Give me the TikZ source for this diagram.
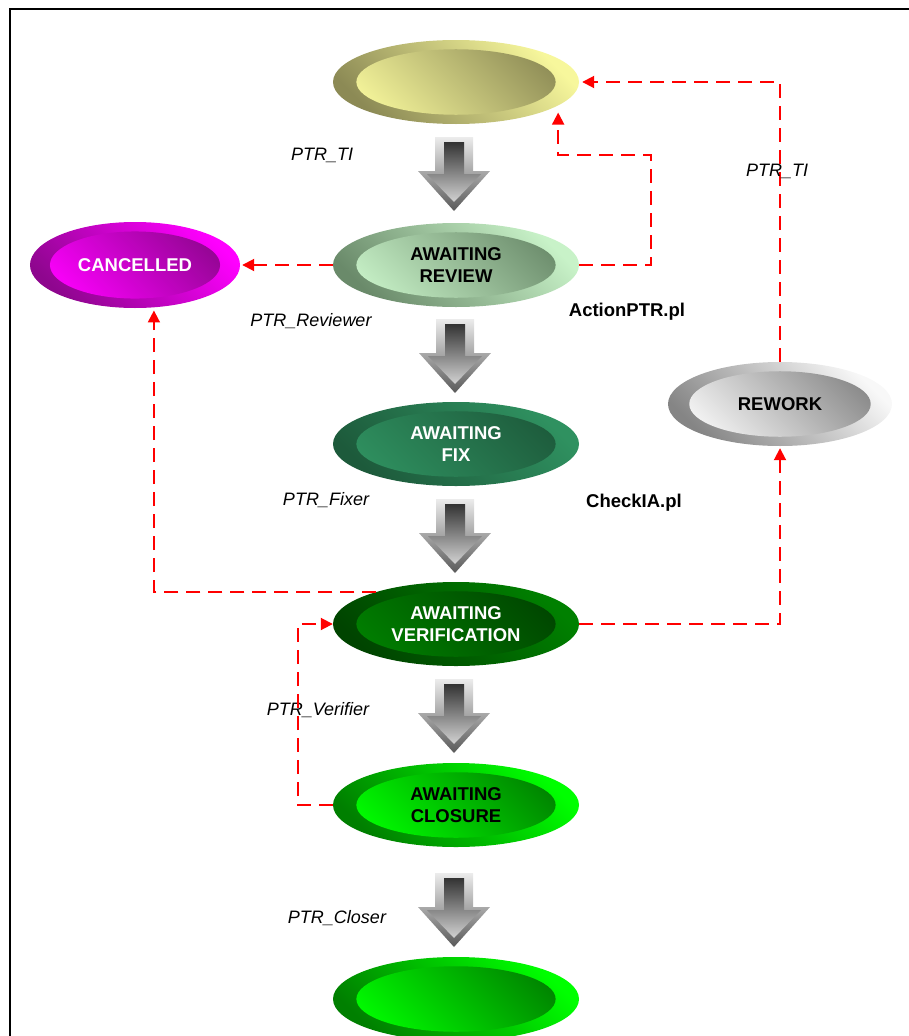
\documentclass[tikz,border=0pt]{standalone}
\usepackage{fontspec}
\setmainfont{Liberation Sans}
\usetikzlibrary{shapes.geometric,arrows.meta,calc}

\definecolor{newL}{HTML}{F7F79C}
\definecolor{newD}{HTML}{8C8A55}
\definecolor{reviewL}{HTML}{C8F2C8}
\definecolor{reviewD}{HTML}{6A8A6A}
\definecolor{cancelL}{HTML}{FF00FF}
\definecolor{cancelD}{HTML}{8E068E}
\definecolor{fixL}{HTML}{2F9160}
\definecolor{fixD}{HTML}{1D5A3B}
\definecolor{verifL}{HTML}{008000}
\definecolor{verifD}{HTML}{004400}
\definecolor{closeL}{HTML}{00FF00}
\definecolor{closeD}{HTML}{007F00}
\definecolor{reworkL}{HTML}{F8F8F8}
\definecolor{reworkD}{HTML}{858585}

\tikzset{
  state/.style 2 args={ellipse, minimum width=246pt, minimum height=84pt, inner sep=0pt,
    align=center, font=\fontsize{18.5}{21.5}\selectfont\bfseries,
    top color=#1, bottom color=#2, shading angle=-45,
    path picture={\shade[top color=#2, bottom color=#1, shading angle=-45]
      (path picture bounding box.center) ellipse
      [x radius={0.405*\pgfkeysvalueof{/pgf/minimum width}},
       y radius={0.39*\pgfkeysvalueof{/pgf/minimum height}}];}},
  flow/.style={draw=red, line width=1.9pt, dash pattern=on 14pt off 8pt,
    -{Triangle[width=12pt,length=12pt]}},
  role/.style={font=\fontsize{18}{21}\selectfont\itshape},
  script/.style={font=\fontsize{18.5}{21.5}\selectfont\bfseries},
  pics/flowarrow/.style={code={
    \shade[top color=gray!15, bottom color=black!65]
      (-19,-37) -- (19,-37) -- (19,-3) -- (36,-3) -- (0,37) -- (-36,-3) -- (-19,-3) -- cycle;
    \shade[top color=black!80, bottom color=gray!35]
      (-10,-32) -- (10,-32) -- (10,0) -- (27,0) -- (0,28) -- (-27,0) -- (-10,0) -- cycle;
  }}
}

\begin{document}
\begin{tikzpicture}[x=1pt, y=-1pt]
  \useasboundingbox (0,0) rectangle (909,1036);
  \clip (0,0) rectangle (909,1036);
  \draw[line width=2pt] (10,1100) |- (1000,9);

  %Define nodes
  \node[state={newL}{newD}] (new) at (456,82) {};
  \node[state={reviewL}{reviewD}] (review) at (456,265) {AWAITING\\REVIEW};
  \node[state={cancelL}{cancelD}, minimum width=210pt, minimum height=86pt, text=white] (cancelled) at (135,265) {CANCELLED};
  \node[state={fixL}{fixD}, text=white] (fix) at (456,444) {AWAITING\\FIX};
  \node[state={verifL}{verifD}, text=white] (verif) at (456,624) {AWAITING\\VERIFICATION};
  \node[state={closeL}{closeD}] (closure) at (456,805) {AWAITING\\CLOSURE};
  \node[state={closeL}{closeD}] (closed) at (456,999) {};
  \node[state={reworkL}{reworkD}, minimum width=224pt, minimum height=84pt] (rework) at (780,404) {REWORK};

  % Flow arrows
  \pic at (454,174) {flowarrow};
  \pic at (455,356) {flowarrow};
  \pic at (455,536) {flowarrow};
  \pic at (454,716) {flowarrow};
  \pic at (454,910) {flowarrow};

  % Labels
  \node[role] (ti) at (322,155) {PTR\_TI};
  \node[role] (reviewer) at (311,321) {PTR\_Reviewer};
  \node[role] (fixer) at (326,500) {PTR\_Fixer};
  \node[role] (verifier) at (318,710) {PTR\_Verifier};
  \node[role] (closer) at (337,918) {PTR\_Closer};
  \node[script] (actionptr) at (627,312) {ActionPTR.pl};
  \node[script] (checkia) at (634,503) {CheckIA.pl};

  % Connect the nodes
  \draw[flow, shorten >=7pt] (review.east) -| (651,155) -| (new.-13);
  \draw[flow, shorten >=3pt] (rework.north) -- node[role, pos=0.68, xshift=-3pt] {PTR\_TI} (rework.north |- new.east) -- (new.east);
  \draw[flow, shorten >=2pt] (review.west) -- (cancelled.east);
  \draw[flow, shorten >=3pt] (verif.158) -| (cancelled.-66);
  \draw[flow] (closure.west) -- ++(-35,0) |- (verif.west);
  \draw[flow, shorten >=2pt] (verif.east) -| (rework.south);
\end{tikzpicture}
\end{document}
